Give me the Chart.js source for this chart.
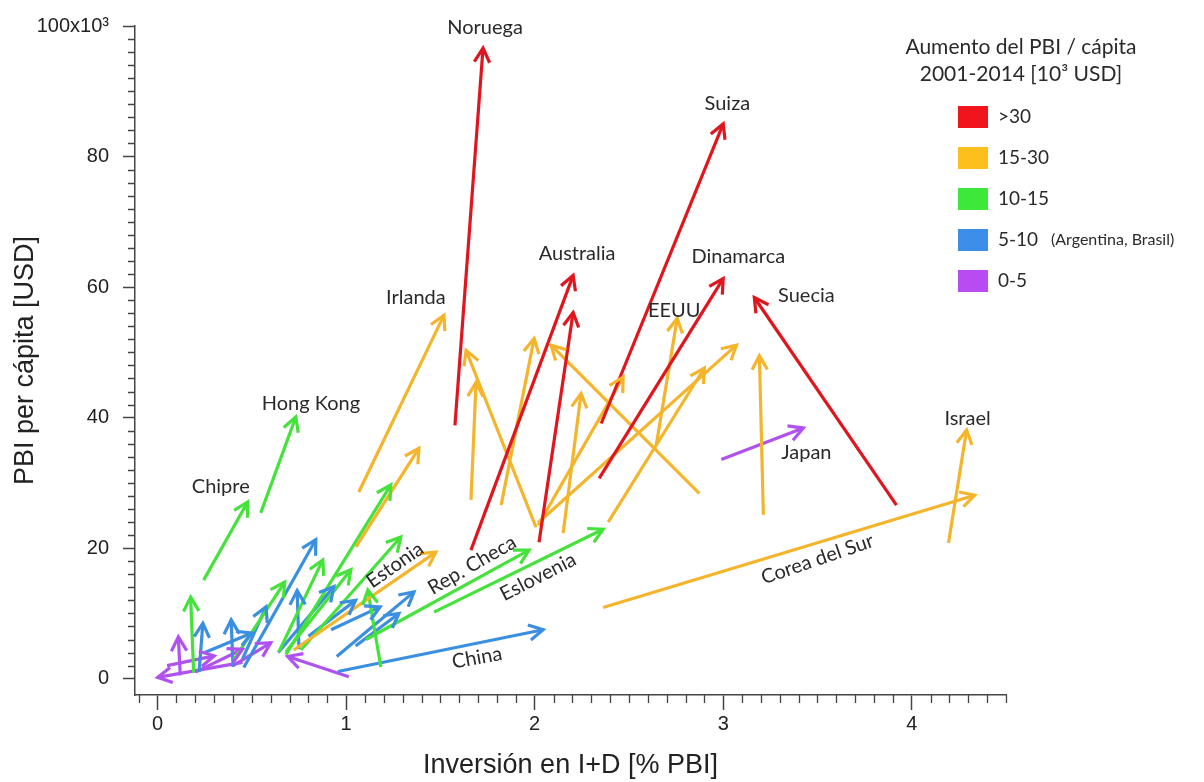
<!DOCTYPE html>
<html>
<head>
<meta charset="utf-8">
<script src="https://cdn.jsdelivr.net/npm/chart.js@4.4.1/dist/chart.umd.min.js"></script>
<style>
  html, body { margin: 0; background: #fff; }
  #wrap { width: 1204px; height: 782px; position: relative; }
</style>
</head>
<body>
<div id="wrap"><canvas id="pbiChart"></canvas></div>
<script>
// categorias de aumento del PBI per capita 2001-2014
const categories = ['>30', '15-30', '10-15', '5-10  (Argentina, Brasil)', '0-5'];

// cada flecha: grupo, punto 2001 (x = I+D %PBI, y = PBI/capita en miles USD) y punto 2014
const arrowGroup = [0,0,0,0,0,0, 1,1,1,1,1,1,1,1,1,1,1,1,1,1,1, 2,2,2,2,2,2,2,2,2,2,2, 3,3,3,3,3,3,3,3,3,3,3,3, 4,4,4,4,4,4,4];
const x2001 = [1.577,2.353,1.662,2.023,2.342,3.919, 1.067,1.052,0.722,1.662,2.007,1.822,2.873,2.151,2.018,2.645,2.018,2.390,3.213,4.195,2.363,
               0.191,0.244,0.547,0.404,0.643,0.680,0.680,0.760,1.184,1.105,1.466,
               0.956,0.457,0.950,0.640,0.920,0.220,0.400,0.450,0.750,0.800,1.050,0.250,
               2.990,1.014,0.450,0.120,0.200,0.400,0.050];
const y2001 = [38.8,39.1,19.7,20.9,30.7,26.6, 28.6,20.2,4.4,27.4,23.2,26.6,28.4,22.3,23.5,35.8,23.9,24.0,25.1,20.8,10.9,
               0.9,15.1,25.4,2.9,4.1,4.1,3.7,4.4,1.8,6.0,10.2,
               1.1,1.7,3.4,4.0,7.5,1.0,1.8,3.0,4.5,6.5,5.0,4.0,
               33.6,0.3,2.5,0.5,1.0,2.0,2.0];
const x2014 = [1.726,3.000,2.204,2.204,3.000,3.165, 1.519,1.386,1.476,1.689,1.636,1.997,2.087,2.246,2.469,2.756,3.070,2.900,3.192,4.291,4.334,
               0.175,0.478,0.733,0.674,0.876,1.025,1.237,1.290,1.115,1.970,2.363,
               2.045,0.839,1.360,0.935,1.180,0.240,0.390,0.575,0.740,1.050,1.280,0.500,
               3.425,0.690,0.000,0.110,0.450,0.600,0.300];
const y2014 = [96.6,85.0,61.8,56.1,61.3,58.4, 55.7,35.3,19.4,45.4,50.3,52.1,51.1,43.7,46.2,55.2,51.1,47.6,49.5,38.1,28.1,
               12.5,27.1,40.1,14.8,18.2,16.7,29.7,21.7,13.6,19.7,22.9,
               7.5,21.3,13.3,14.1,11.0,8.5,9.0,11.0,13.5,12.0,10.0,7.0,
               38.4,3.4,0.2,6.4,4.5,5.5,3.5];

const xTickValues = [0, 1, 2, 3, 4];
const yTickValues = [0, 20, 40, 60, 80, 100];

// nombres de paises (texto, x, y en coordenadas de datos, rotacion en grados)
const countryTags = [
  ['Noruega', 1.737, 99.7, 0], ['Suiza', 3.022, 88.1, 0], ['Australia', 2.225, 65.1, 0],
  ['Dinamarca', 3.080, 64.7, 0], ['Irlanda', 1.370, 58.4, 0], ['EEUU', 2.740, 56.4, 0],
  ['Suecia', 3.441, 58.7, 0], ['Hong Kong', 0.813, 42.2, 0], ['Chipre', 0.335, 29.4, 0],
  ['Israel', 4.296, 39.9, 0], ['Japan', 3.441, 34.7, 0], ['Corea del Sur', 3.50, 18.3, -19],
  ['Estonia', 1.259, 17.4, -35], ['Rep. Checa', 1.668, 17.4, -30], ['Eslovenia', 2.018, 15.6, -27],
  ['China', 1.694, 3.2, -10]
];

const lineColors = ['#e0161e', '#f4b52c', '#46e23c', '#3a8fe0', '#b052ef'];
const boxColors = ['#f2141c', '#fcbf1c', '#3ee83a', '#3d8ee6', '#b84cf2'];
const labelFont = '20px Lato, "Open Sans", sans-serif';

const datasets = arrowGroup.map(function(g, i) {
  return {
    data: [{ x: x2001[i], y: y2001[i] }, { x: x2014[i], y: y2014[i] }],
    showLine: true,
    borderColor: lineColors[g],
    backgroundColor: lineColors[g],
    borderWidth: 3.2,
    pointRadius: 0,
    pointHoverRadius: 0
  };
});

const arrowHeads = {
  id: 'arrowHeads',
  afterDatasetsDraw(chart) {
    const c = chart.ctx;
    chart.data.datasets.forEach(function(ds, i) {
      const pts = chart.getDatasetMeta(i).data;
      const a = pts[0], b = pts[1];
      const ang = Math.atan2(b.y - a.y, b.x - a.x);
      const len = 16, spread = 0.5;
      c.save();
      c.strokeStyle = ds.borderColor;
      c.lineWidth = 3.2;
      c.beginPath();
      c.moveTo(b.x - len * Math.cos(ang - spread), b.y - len * Math.sin(ang - spread));
      c.lineTo(b.x, b.y);
      c.lineTo(b.x - len * Math.cos(ang + spread), b.y - len * Math.sin(ang + spread));
      c.stroke();
      c.restore();
    });
  }
};

const minorTicks = {
  id: 'minorTicks',
  afterDraw(chart) {
    const c = chart.ctx, xs = chart.scales.x, ys = chart.scales.y;
    const area = chart.chartArea;
    c.save();
    c.strokeStyle = '#444';
    c.lineWidth = 1.3;
    c.beginPath();
    for (let k = -1; k <= 45; k++) {
      if (k % 10 === 0) continue;
      const px = Math.round(xs.getPixelForValue(k / 10)) + 0.5;
      c.moveTo(px, area.bottom);
      c.lineTo(px, area.bottom + 8);
    }
    for (let k = 2; k < 100; k += 2) {
      if (k % 20 === 0) continue;
      const py = Math.round(ys.getPixelForValue(k)) + 0.5;
      c.moveTo(area.left, py);
      c.lineTo(area.left - 7, py);
    }
    c.stroke();
    c.restore();
  }
};

const countryLabels = {
  id: 'countryLabels',
  afterDatasetsDraw(chart) {
    const c = chart.ctx, xs = chart.scales.x, ys = chart.scales.y;
    c.save();
    c.fillStyle = '#2a2a2a';
    c.font = labelFont;
    c.textAlign = 'center';
    c.textBaseline = 'middle';
    countryTags.forEach(function(t) {
      c.save();
      c.translate(xs.getPixelForValue(t[1]), ys.getPixelForValue(t[2]));
      c.rotate(t[3] * Math.PI / 180);
      c.fillText(t[0], 0, 0);
      c.restore();
    });
    c.restore();
  }
};

const sideLegend = {
  id: 'sideLegend',
  afterDraw(chart) {
    const c = chart.ctx;
    c.save();
    c.fillStyle = '#2a2a2a';
    c.font = '21px Lato, "Open Sans", sans-serif';
    c.textAlign = 'center';
    c.textBaseline = 'middle';
    c.fillText('Aumento del PBI / cápita', 1021, 47);
    c.fillText('2001-2014 [10³ USD]', 1021, 74);
    c.textAlign = 'left';
    categories.forEach(function(name, i) {
      const yy = 117 + i * 41;
      c.fillStyle = boxColors[i];
      c.fillRect(958, yy - 11, 30, 22);
      c.fillStyle = '#2a2a2a';
      c.font = '19px Lato, "Open Sans", sans-serif';
      if (i === 3) {
        c.fillText('5-10', 998, yy);
        c.font = '16px Lato, "Open Sans", sans-serif';
        c.fillText('(Argentina, Brasil)', 1051, yy);
      } else {
        c.fillText(name, 998, yy);
      }
    });
    c.restore();
  }
};

const axisFont = { family: '"Liberation Sans", Arial, sans-serif', size: 20 };
const titleFont = { family: '"Liberation Sans Narrow", "Liberation Sans", Arial, sans-serif', size: 27 };

new Chart(document.getElementById('pbiChart'), {
  type: 'scatter',
  data: { datasets: datasets },
  options: {
    responsive: true,
    maintainAspectRatio: false,
    animation: false,
    events: [],
    layout: { padding: { top: 25, right: 198, left: 0, bottom: 0 } },
    plugins: { legend: { display: false }, tooltip: { enabled: false } },
    scales: {
      x: {
        type: 'linear',
        min: -0.12,
        max: 4.5,
        afterFit: function(s) { s.height = 87; },
        afterBuildTicks: function(s) { s.ticks = xTickValues.map(function(v) { return { value: v }; }); },
        border: { display: true, color: '#444', width: 1.5 },
        grid: { display: true, drawOnChartArea: false, drawTicks: true, tickLength: 15, tickColor: '#444', tickWidth: 1.5 },
        ticks: { color: '#222', font: axisFont, padding: 2, maxRotation: 0 },
        title: { display: true, text: 'Inversión en I+D [% PBI]', color: '#222', font: titleFont, padding: { top: 0, bottom: 0 } }
      },
      y: {
        type: 'linear',
        min: -2.5,
        max: 100,
        afterFit: function(s) { s.width = 135; },
        afterBuildTicks: function(s) { s.ticks = yTickValues.map(function(v) { return { value: v }; }); },
        border: { display: true, color: '#444', width: 1.5 },
        grid: { display: true, drawOnChartArea: false, drawTicks: true, tickLength: 12, tickColor: '#444', tickWidth: 1.5 },
        ticks: {
          color: '#222', font: axisFont, padding: 14,
          callback: function(v) { return v === 100 ? '100x10³' : v; }
        },
        title: { display: true, text: 'PBI per cápita [USD]', color: '#222', font: titleFont, padding: { top: 9, bottom: 0 } }
      }
    }
  },
  plugins: [arrowHeads, minorTicks, countryLabels, sideLegend]
});
</script>
</body>
</html>
